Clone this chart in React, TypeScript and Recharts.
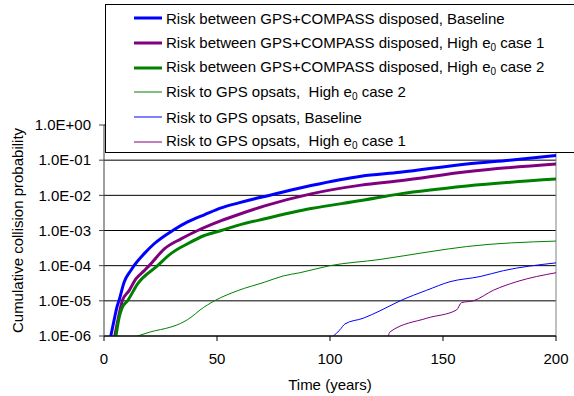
import React from 'react';
import {
  LineChart,
  Line,
  XAxis,
  YAxis,
  CartesianGrid,
  ReferenceLine,
  Label,
} from 'recharts';

// values (years, cumulative probability)
const baselineYears = [3.0, 4.4, 5.9, 6.6, 8.9, 11.8, 13.3, 17.8, 22.2, 30.4, 37, 44.4, 51.9, 59.2, 66.7, 71.1, 91.6, 113.8, 131, 160.5, 179.6, 200];
const baselineRisk = [1e-6, 2.7e-6, 7.3e-6, 1e-5, 3.4e-5, 7.2e-5, 1e-4, 2.2e-4, 4.2e-4, 1e-3, 1.75e-3, 2.8e-3, 4.4e-3, 6.0e-3, 8e-3, 9.3e-3, 1.9e-2, 3.5e-2, 4.5e-2, 7.8e-2, 1.0e-1, 1.35e-1];

const case1Years = [4.8, 6.7, 8.1, 11.1, 14.1, 17.8, 20, 26.7, 34.1, 41.5, 51.9, 59.2, 71.1, 91.6, 113.8, 131, 160.5, 200];
const case1Risk = [1e-6, 4.2e-6, 1e-5, 1.95e-5, 4.2e-5, 7.2e-5, 1e-4, 3.0e-4, 5.8e-4, 1e-3, 1.9e-3, 2.8e-3, 5.0e-3, 1.1e-2, 1.95e-2, 2.6e-2, 4.7e-2, 7.8e-2];

const case2Years = [5.3, 6.7, 8.1, 10.4, 14.8, 23.7, 29.6, 37, 44.4, 51.9, 59.2, 71.1, 91.6, 113.8, 131, 160.5, 200];
const case2Risk = [1e-6, 3.4e-6, 6.5e-6, 1e-5, 3.0e-5, 1e-4, 2.2e-4, 4.2e-4, 7.2e-4, 1e-3, 1.4e-3, 2.15e-3, 4.2e-3, 7.1e-3, 1.1e-2, 1.85e-2, 2.9e-2];

const opsCase2Years = [14.8, 20.4, 29.6, 32.2, 38.5, 42.5, 48.9, 59.2, 71.1, 79.3, 86.7, 100, 122.1, 144.2, 160.5, 200];
const opsCase2Risk = [1e-6, 1.3e-6, 1.8e-6, 2.05e-6, 3.4e-6, 5.5e-6, 1e-5, 1.95e-5, 3.4e-5, 5.1e-5, 6.3e-5, 1e-4, 1.5e-4, 2.5e-4, 3.5e-4, 5.0e-4];

const opsBaseYears = [101.5, 104.4, 106.6, 114.7, 122.1, 131, 142.8, 153.1, 166.4, 176.7, 200];
const opsBaseRisk = [1e-6, 1.5e-6, 2.2e-6, 3.2e-6, 5.2e-6, 1e-5, 2.0e-5, 3.5e-5, 4.9e-5, 7.2e-5, 1.2e-4];

const opsCase1Years = [125.8, 126.5, 142.8, 156, 158.2, 163.4, 172.3, 182.6, 200];
const opsCase1Risk = [1e-6, 1.3e-6, 3.2e-6, 5.5e-6, 8.9e-6, 1.0e-5, 2.0e-5, 3.5e-5, 6.3e-5];

const xTicks = [0, 50, 100, 150, 200];
const yTicks = [1e-6, 1e-5, 1e-4, 1e-3, 1e-2, 1e-1, 1];

const toPoints = (xs: number[], ys: number[]) => xs.map((x, i) => ({ x, y: ys[i] }));

const series = [
  { key: 'b', name: 'Risk between GPS+COMPASS disposed, Baseline', sub: '', color: '#0000FF', width: 3, data: toPoints(baselineYears, baselineRisk) },
  { key: 'c1', name: 'Risk between GPS+COMPASS disposed, ', sub: '1', color: '#800080', width: 3, data: toPoints(case1Years, case1Risk) },
  { key: 'c2', name: 'Risk between GPS+COMPASS disposed, ', sub: '2', color: '#008000', width: 3, data: toPoints(case2Years, case2Risk) },
  { key: 'o2', name: 'Risk to GPS opsats,  ', sub: '2', color: '#008000', width: 1, data: toPoints(opsCase2Years, opsCase2Risk) },
  { key: 'ob', name: 'Risk to GPS opsats, Baseline', sub: '', color: '#0000FF', width: 1, data: toPoints(opsBaseYears, opsBaseRisk) },
  { key: 'o1', name: 'Risk to GPS opsats,  ', sub: '1', color: '#800080', width: 1, data: toPoints(opsCase1Years, opsCase1Risk) },
];

const FONT = '"Liberation Sans", Arial, sans-serif';

const sci = (v: number) => {
  const exp = Math.round(Math.log10(v));
  const sign = exp < 0 ? '-' : '+';
  return `1.0E${sign}${String(Math.abs(exp)).padStart(2, '0')}`;
};

export default function App() {
  return (
    <div style={{ position: 'absolute', left: 0, top: 0, width: 574, height: 396, background: '#fff', fontFamily: FONT }}>
      <LineChart width={574} height={396} margin={{ top: 125, right: 18, left: 0, bottom: 0 }}>
        <CartesianGrid vertical={false} stroke="#000" strokeWidth={1} />
        <XAxis
          type="number"
          dataKey="x"
          domain={[0, 200]}
          ticks={xTicks}
          allowDataOverflow
          height={60}
          tickSize={5}
          tickMargin={12}
          stroke="#000"
          tick={{ fill: '#000', fontSize: 15, fontFamily: FONT }}
        >
          <Label value="Time (years)" position="insideBottom" offset={6} style={{ fill: '#000', fontSize: 15, fontFamily: FONT }} />
        </XAxis>
        <YAxis
          type="number"
          dataKey="y"
          scale="log"
          domain={[1e-6, 1]}
          ticks={yTicks}
          allowDataOverflow
          width={104}
          tickSize={5}
          tickMargin={8}
          tickFormatter={sci}
          stroke="#404040"
          tick={{ fill: '#000', fontSize: 15, fontFamily: FONT }}
        >
          <Label
            value="Cumulative collision probability"
            angle={-90}
            position="insideLeft"
            offset={18}
            style={{ textAnchor: 'middle', fill: '#000', fontSize: 15, fontFamily: FONT }}
          />
        </YAxis>
        <ReferenceLine x={200} stroke="#808080" />
        {series.map((s) => (
          <Line
            key={s.key}
            data={s.data}
            dataKey="y"
            type="monotone"
            stroke={s.color}
            strokeWidth={s.width}
            dot={false}
            isAnimationActive={false}
          />
        ))}
      </LineChart>
      <div
        style={{
          position: 'absolute',
          left: 105,
          top: 4,
          width: 480,
          height: 149,
          border: '1px solid #000',
          background: '#fff',
          paddingTop: 1,
          boxSizing: 'border-box',
          fontSize: 15,
          color: '#000',
        }}
      >
        {series.map((s) => (
          <div key={s.key} style={{ display: 'flex', alignItems: 'center', height: 24.7, whiteSpace: 'pre' }}>
            <svg width={60} height={10} style={{ flex: 'none' }}>
              <line x1={28} y1={5} x2={56} y2={5} stroke={s.color} strokeWidth={s.width} />
            </svg>
            <span>
              {s.name}
              {s.sub && (
                <>
                  High e<sub style={{ fontSize: 10, verticalAlign: -3 }}>0</sub> case {s.sub}
                </>
              )}
            </span>
          </div>
        ))}
      </div>
    </div>
  );
}
